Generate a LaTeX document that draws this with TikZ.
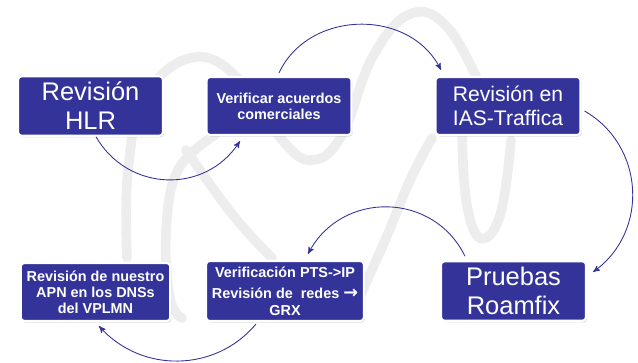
\documentclass[tikz,border=0pt]{standalone}
\usepackage{fontspec}
\setmainfont{Liberation Sans}
\newfontfamily\arrowfont{DejaVu Sans}
\usetikzlibrary{positioning,arrows,shadows}
\definecolor{boxblue}{RGB}{52,51,153}
\definecolor{ropegray}{RGB}{237,237,237}

\begin{document}
\begin{tikzpicture}[%
    >=stealth',                 % Small thin arrow heads
    node distance=3.77cm,       % Global setup of box spacing
    every node/.style={on grid},
    ]
% -------------------------------------------------
% A few box styles
\tikzset{
  box/.style={draw=white, line width=1.2pt, fill=boxblue, rounded corners=2pt,
    minimum width=2.9cm, minimum height=1.16cm, text=white, align=center,
    drop shadow={shadow xshift=0.7pt, shadow yshift=-0.9pt, opacity=0.3}},
  bigtext/.style={font=\fontsize{14.5}{16.5}\selectfont},
  midtext/.style={font=\fontsize{12}{13.6}\selectfont},
  smalltext/.style={font=\bfseries\fontsize{8.2}{9.2}\selectfont},
  % Connector and background line styles
  flow/.style={->, draw=boxblue, line width=0.5pt},
  rope/.style={draw=ropegray, line width=5.5pt, line cap=round}
}
\useasboundingbox (0,0) rectangle (12.76,7.24);
% -------------------------------------------------
% Faint rope drawn in the background (pixel grid)
\begin{scope}[shift={(0,7.24)}, x=0.02cm, y=-0.02cm]
\draw[rope] plot[smooth, tension=0.7] coordinates {(127,258) (128,170) (146,95) (196,57)
  (245,85) (282,140) (312,160) (342,135) (372,58) (410,14) (448,28) (482,90)};
\draw[rope] plot[smooth, tension=0.7] coordinates {(215,135) (178,170) (166,232)
  (170,298) (182,318)};
\draw[rope] plot[smooth, tension=0.7] coordinates {(186,150) (232,214) (272,258)};
\draw[rope] plot[smooth, tension=0.7] coordinates {(358,300) (386,238) (410,180) (432,138)};
\draw[rope] plot[smooth, tension=0.7] coordinates {(462,130) (466,200) (480,238)
  (500,215) (511,140)};
\end{scope}
% -------------------------------------------------
% Start by placing the nodes
\node [box, bigtext] at (1.81,5.12) (b1) {Revisión\\HLR};
\node [box, smalltext, right=of b1] (b2) {Verificar acuerdos\\comerciales};
\node [box, midtext, right=4.58cm of b2] (b3) {Revisión en\\IAS-Traffica};
\node [box, bigtext, below=3.7cm of b3, xshift=0.11cm] (b4) {Pruebas\\Roamfix};
\node [box, smalltext, left=4.57cm of b4] (b5)
  {Verificación PTS->IP\\[3pt]Revisión de~ redes {\arrowfont\bfseries\fontsize{10}{9.2}\selectfont →}\\GRX};
\node [box, smalltext, left=3.79cm of b5, yshift=-0.02cm] (b6) {Revisión de nuestro\\APN en los DNSs\\del VPLMN};

% -------------------------------------------------
% Curved connectors between the steps
\draw [flow] ([xshift=0.11cm]b1.south) to[out=-60, in=-123, looseness=1.13]
  ([xshift=-0.78cm,yshift=-0.1cm]b2.south);
\draw [flow] ([yshift=0.06cm]b2.north) to[out=65, in=117, looseness=1.1]
  ([xshift=-1.34cm,yshift=0.12cm]b3.north);
\draw [flow] ([xshift=0.06cm,yshift=-0.1cm]b3.east) to[out=-30, in=36, looseness=1.1]
  ([xshift=0.12cm,yshift=0.38cm]b4.east);
\draw [flow] ([xshift=-0.97cm,yshift=0.08cm]b4.north) to[out=116, in=62, looseness=1.17]
  ([xshift=0.46cm,yshift=0.12cm]b5.north);
\draw [flow] ([xshift=-0.58cm,yshift=-0.04cm]b5.south) to[out=-130, in=-48, looseness=1.03]
  ([xshift=0.07cm,yshift=-0.08cm]b6.south);
% -------------------------------------------------
\end{tikzpicture}
\end{document}
